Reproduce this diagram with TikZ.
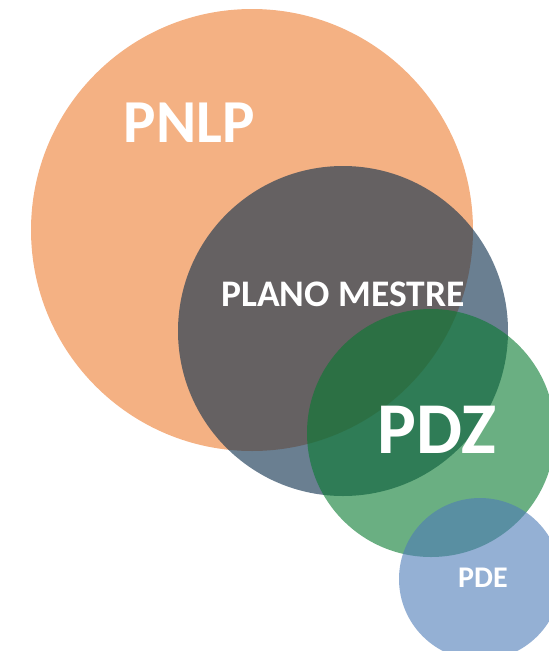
\documentclass[tikz,border=0pt]{standalone}
\usepackage{fontspec}
\setmainfont{Carlito}
\usepackage{tikz}

\definecolor{pnlpcol}{RGB}{237,125,49}
\definecolor{mestrecol}{RGB}{14,48,78}
\definecolor{pdzcol}{RGB}{7,122,47}
\definecolor{pdecol}{RGB}{77,123,183}

\tikzset{
  label/.style={text=white, inner sep=0pt, font=\bfseries},
}

\begin{document}
\begin{tikzpicture}[x=1pt, y=-1pt]
					\useasboundingbox (0,0) rectangle (549,651);
					\clip (0,0) rectangle (549,651);
					\coordinate (pnlp) at (252,230);
					\coordinate (mestre) at (343,331);
					\coordinate (pdz) at (431,433);
					\coordinate (pde) at (480,579);
					\fill[pnlpcol, fill opacity=0.6] (pnlp) circle (221); % Circles.
					\fill[mestrecol, fill opacity=0.62] (mestre) circle (165);
					\fill[pdzcol, fill opacity=0.6] (pdz) circle (124);
					\fill[pdecol, fill opacity=0.6] (pde) circle (81);
					
					\node[label, font=\bfseries\fontsize{61}{61}\selectfont] (tpnlp) at (189,123) {PNLP};
					\node[label, font=\bfseries\fontsize{37.5}{37.5}\selectfont] (tmestre) at (343,294) {PLANO MESTRE};
					\node[label, font=\bfseries\fontsize{73}{73}\selectfont] (tpdz) at (437,430) {PDZ};
					\node[label, font=\bfseries\fontsize{30}{30}\selectfont] (tpde) at (483,578) {PDE};
				\end{tikzpicture}
\end{document}
